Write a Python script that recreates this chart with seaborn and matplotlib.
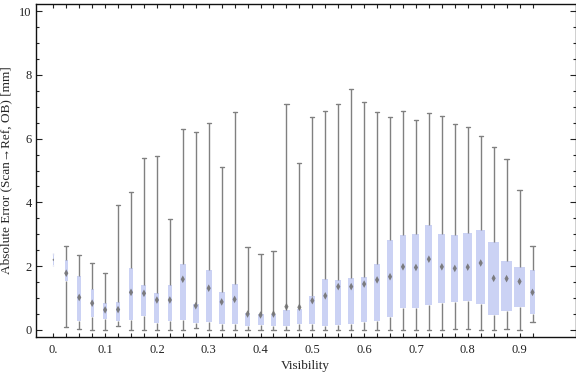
import matplotlib
matplotlib.use("Agg")
import matplotlib.pyplot as plt
from matplotlib.path import Path
import seaborn as sns
import pandas as pd

# visibility bins (one box each)
visibility = [0.0, 0.025, 0.05, 0.075, 0.1, 0.125, 0.15, 0.175, 0.2, 0.225,
              0.25, 0.275, 0.3, 0.325, 0.35, 0.375, 0.4, 0.425, 0.45, 0.475,
              0.5, 0.525, 0.55, 0.575, 0.6, 0.625, 0.65, 0.675, 0.7, 0.725,
              0.75, 0.775, 0.8, 0.825, 0.85, 0.875, 0.9, 0.925]

# box statistics [mm]
err_min = [2.02, 0.10, 0.02, 0.00, 0.00, 0.13, 0.00, 0.00, 0.00, 0.00,
           0.00, 0.05, 0.00, 0.00, 0.00, 0.00, 0.00, 0.00, 0.00, 0.00,
           0.00, 0.00, 0.00, 0.00, 0.00, 0.00, 0.00, 0.00, 0.00, 0.00,
           0.00, 0.03, 0.03, 0.00, 0.00, 0.02, 0.00, 0.24]
err_q1 = [2.05, 1.55, 0.29, 0.42, 0.36, 0.29, 0.32, 0.45, 0.23, 0.29,
          0.32, 0.23, 0.26, 0.20, 0.20, 0.13, 0.17, 0.13, 0.13, 0.20,
          0.20, 0.14, 0.17, 0.20, 0.26, 0.29, 0.42, 0.70, 0.70, 0.79,
          0.86, 0.89, 0.92, 0.82, 0.48, 0.61, 0.73, 0.51]
err_q3 = [2.35, 2.18, 1.68, 1.29, 0.84, 0.87, 1.93, 1.40, 1.15, 1.40,
          2.07, 0.82, 1.88, 1.19, 1.44, 0.52, 0.50, 0.50, 0.63, 0.66,
          1.07, 1.60, 1.57, 1.63, 1.66, 2.07, 2.82, 2.98, 3.01, 3.29,
          3.01, 2.98, 3.04, 3.13, 2.76, 2.16, 1.97, 1.88]
err_max = [2.40, 2.62, 2.34, 2.09, 1.78, 3.91, 4.32, 5.38, 5.44, 3.47,
           6.29, 6.20, 6.48, 5.12, 6.82, 2.59, 2.37, 2.47, 7.07, 5.22,
           6.67, 6.85, 7.07, 7.55, 7.14, 6.82, 6.67, 6.85, 6.57, 6.79,
           6.70, 6.45, 6.35, 6.07, 5.73, 5.35, 4.38, 2.62]
err_mean = [2.20, 1.78, 1.02, 0.84, 0.63, 0.64, 1.18, 1.15, 0.94, 0.94,
            1.59, 0.76, 1.31, 0.88, 0.96, 0.50, 0.47, 0.50, 0.73, 0.71,
            0.92, 1.07, 1.36, 1.36, 1.44, 1.57, 1.67, 1.98, 1.96, 2.22,
            1.98, 1.93, 1.97, 2.10, 1.62, 1.61, 1.52, 1.18]

x_ticks = [0.0, 0.1, 0.2, 0.3, 0.4, 0.5, 0.6, 0.7, 0.8, 0.9]
x_labels = ["0.", "0.1", "0.2", "0.3", "0.4", "0.5", "0.6", "0.7", "0.8", "0.9"]
y_ticks = [0, 2, 4, 6, 8, 10]

# box widths in pixels and diamond sizes (style)
box_px = [1.5, 3, 4, 3.3, 3.3, 3.3, 4, 5, 5, 4.5,
          6, 6, 6, 6, 6, 5, 6, 5, 7, 5,
          6, 6, 6, 6, 6, 6, 6, 6, 7, 7,
          7, 7, 9, 9, 11, 11, 11, 5]
diamond_s = [4] + [30] * 37

# long table: whiskers at min/max, box edges at the quartiles
rows = []
for v, a, b, c, d in zip(visibility, err_min, err_q1, err_q3, err_max):
    for val in (a, b, b, c, d):
        rows.append({"vis": v, "err": val})
df = pd.DataFrame(rows)

sns.set_style("ticks")
plt.rcParams["font.family"] = ["Liberation Serif", "DejaVu Serif"]

fig = plt.figure(figsize=(5.76, 3.77), dpi=100)
ax = fig.add_axes([36 / 576, 1 - 337 / 377, 539.5 / 576, 333 / 377])

px = 518.0  # pixels per visibility unit
box_col = "#cbd2f4"
line_col = "#808080"

for v, w in zip(visibility, box_px):
    sub = df[df["vis"] == v]
    thin = w < 2
    sns.boxplot(data=sub, x="vis", y="err", native_scale=True, ax=ax,
                width=w / px, whis=(0, 100), showfliers=False,
                color=box_col, saturation=1,
                linecolor="#d8dcf0" if thin else line_col,
                linewidth=1.0,
                boxprops=dict(edgecolor="none", facecolor=box_col),
                medianprops=dict(linewidth=0),
                capwidths=0 if thin else 4.2 / px)

# mean markers (thin diamonds)
diamond = Path([(0, 1), (0.55, 0), (0, -1), (-0.55, 0), (0, 1)],
               [Path.MOVETO, Path.LINETO, Path.LINETO, Path.LINETO, Path.CLOSEPOLY])
sns.scatterplot(x=visibility, y=err_mean, marker=diamond, s=diamond_s, color="#727272",
                linewidth=0, alpha=0.9, ax=ax, zorder=5)

ax.set_xlim(-0.0334, 1.008)
ax.set_ylim(-0.22, 10.22)
ax.set_xticks(x_ticks)
ax.set_xticklabels(x_labels)
ax.set_xticks(visibility, minor=True)
ax.set_yticks(y_ticks)
ax.set_yticks([i * 0.5 for i in range(21)], minor=True)

ax.tick_params(axis="both", which="both", direction="in", top=True, right=True,
               width=0.8, colors="#222222", labelsize=9)
ax.tick_params(axis="x", which="both", length=3, pad=5)
ax.tick_params(axis="y", which="major", length=4.5, pad=3)
ax.tick_params(axis="y", which="minor", length=2.5)
for s in ax.spines.values():
    s.set_visible(True)
    s.set_linewidth(1.0)
    s.set_color("#111111")

ax.set_xlabel("Visibility", fontsize=9.5, labelpad=3)
ax.set_ylabel("Absolute Error (Scan\u2192Ref, OB) [mm]", fontsize=9.5, labelpad=5)

fig.savefig("out.png", dpi=100)
